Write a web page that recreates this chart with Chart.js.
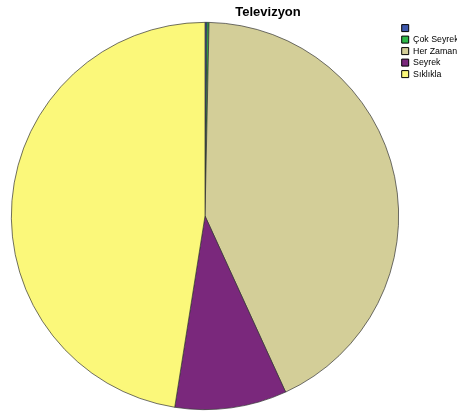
<!DOCTYPE html>
<html>
<head>
<meta charset="utf-8">
<script src="https://cdn.jsdelivr.net/npm/chart.js@4"></script>
<style>
  html, body { margin: 0; padding: 0; background: #fff; }
  canvas { display: block; }
</style>
</head>
<body>
<canvas id="pie" width="457" height="414"></canvas>
<script>
const chartTitle = "Televizyon";
const categories = ["", "Çok Seyrek", "Her Zaman", "Seyrek", "Sıklıkla"];
const counts = [1, 1, 257, 56, 285];
const sliceColors = ["#3e58ac", "#2eb848", "#d3ce98", "#7a287c", "#fbf87a"];

// title sits off-centre, to the right of the pie
const titlePlugin = {
    id: "offsetTitle",
    afterDraw(chart) {
        const ctx = chart.ctx;
        ctx.save();
        ctx.font = "bold 13px 'Liberation Sans', Arial, sans-serif";
        ctx.fillStyle = "#000";
        ctx.textAlign = "center";
        ctx.textBaseline = "middle";
        ctx.fillText(chartTitle, 268, 12);
        ctx.restore();
    },
};

new Chart(document.getElementById("pie"), {
    type: "pie",
    data: {
        labels: categories,
        datasets: [{
            data: counts,
            backgroundColor: sliceColors,
            borderColor: "#333",
            borderWidth: 0.7,
        }],
    },
    options: {
        responsive: false,
        animation: false,
        layout: { padding: { top: 21, bottom: 3, left: 11, right: 0 } },
        plugins: {
            title: { display: false },
            tooltip: { enabled: false },
            legend: {
                position: "right",
                align: "start",
                maxWidth: 58,
                labels: {
                    boxWidth: 7,
                    boxHeight: 7,
                    padding: 2.7,
                    color: "#000",
                    font: { family: "'Liberation Sans', Arial, sans-serif", size: 8.8 },
                    generateLabels(chart) {
                        const ds = chart.data.datasets[0];
                        return chart.data.labels.map((text, i) => ({
                            text,
                            fillStyle: ds.backgroundColor[i],
                            strokeStyle: "#000",
                            lineWidth: 1,
                            hidden: false,
                            index: i,
                        }));
                    },
                },
            },
        },
    },
    plugins: [titlePlugin],
});
</script>
</body>
</html>
